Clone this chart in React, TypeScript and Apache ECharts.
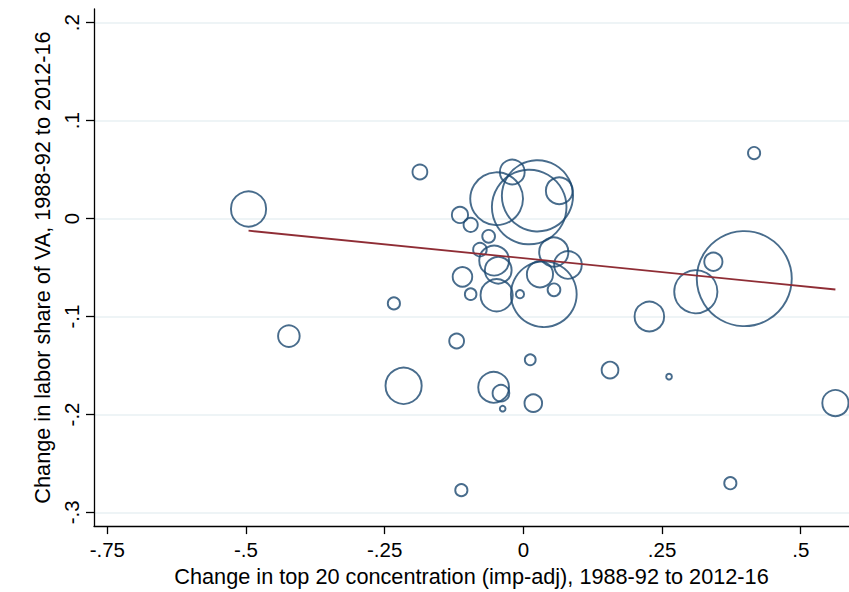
import React, { useEffect, useRef } from "react";
import * as echarts from "echarts";

// Change in top-20 concentration (imp-adj), 1988-92 to 2012-16
const xValues = [
  -0.4954, -0.2334, -0.4227, -0.2159, 0.3982, 0.3109, 0.3425, 0.2271, 0.1562, 0.2626,
  0.5625, 0.4159, -0.1118, 0.3731, -0.1203, 0.0124, -0.0536, -0.0404, -0.0373, 0.0179,
  -0.02, -0.0482, 0.0254, 0.0105, 0.0647, -0.1143, -0.095, -0.0626, -0.0783, -0.0527,
  -0.0453, -0.1098, -0.095, -0.0482, 0.0368, -0.0061, 0.0299, 0.0548, 0.0804, 0.0552,
  -0.1865,
];
// Change in labor share of VA, 1988-92 to 2012-16
const yValues = [
  0.0098, -0.0866, -0.12, -0.1708, -0.0613, -0.0747, -0.0441, -0.1, -0.1547, -0.1614,
  -0.1884, 0.0669, -0.2773, -0.2702, -0.125, -0.1442, -0.1723, -0.1783, -0.1941, -0.1885,
  0.0476, 0.0203, 0.0232, 0.0118, 0.0284, 0.0037, -0.0064, -0.0181, -0.0317, -0.0429,
  -0.0527, -0.0595, -0.0772, -0.0783, -0.0772, -0.0772, -0.0569, -0.0342, -0.0473, -0.0727,
  0.0476,
];
// Industry weights (marker area proportional)
const weights = [
  342, 49, 137, 361, 2343, 506, 100, 246, 86, 14,
  196, 49, 49, 49, 69, 40, 266, 86, 14, 94,
  177, 745, 1332, 1459, 204, 81, 64, 53, 59, 250,
  204, 114, 45, 289, 1142, 25, 196, 240, 216, 53,
  69,
];
// Fitted values (linear fit)
const fitX = [-0.4954, 0.5625];
const fitY = [-0.0124, -0.0724];

const xTicks = [-0.75, -0.5, -0.25, 0, 0.25, 0.5];
const xTickLabels = ["-.75", "-.5", "-.25", "0", ".25", ".5"];
const yTicks = [-0.3, -0.2, -0.1, 0, 0.1, 0.2];
const yTickLabels = ["-.3", "-.2", "-.1", "0", ".1", ".2"];

const xTitle = "Change in top 20 concentration (imp-adj), 1988-92 to 2012-16";
const yTitle = "Change in labor share of VA, 1988-92 to 2012-16";

const FONT = "'Liberation Sans', Arial, sans-serif";

function fmt(ticks: number[], labels: string[]) {
  return (v: number) => {
    const i = ticks.findIndex((t) => Math.abs(t - v) < 1e-9);
    return i >= 0 ? labels[i] : "";
  };
}

export default function App() {
  const ref = useRef<HTMLDivElement>(null);
  useEffect(() => {
    document.body.style.margin = "0";
    const chart = echarts.init(ref.current!, null, { renderer: "svg" });
    const scatterData = xValues.map((x, i) => [x, yValues[i], weights[i]]);
    const fitData = fitX.map((x, i) => [x, fitY[i]]);
    const axisLineStyle = { color: "#000", width: 1.3 };
    chart.setOption({
      animation: false,
      backgroundColor: "#ffffff",
      grid: { left: 94, right: 0, top: 9, bottom: 61 },
      xAxis: {
        type: "value",
        min: -0.774,
        max: 0.587,
        axisLine: { show: true, onZero: false, lineStyle: axisLineStyle },
        axisTick: { show: true, length: 8, customValues: xTicks, lineStyle: axisLineStyle },
        axisLabel: {
          customValues: xTicks,
          formatter: fmt(xTicks, xTickLabels),
          fontSize: 20.5,
          color: "#000",
          fontFamily: FONT,
          margin: 13,
        },
        splitLine: { show: false },
        name: xTitle,
        nameLocation: "middle",
        nameGap: 37,
        nameTextStyle: { fontSize: 21.7, color: "#000", fontFamily: FONT },
      },
      yAxis: {
        type: "value",
        min: -0.314,
        max: 0.214,
        axisLine: { show: true, onZero: false, lineStyle: axisLineStyle },
        axisTick: { show: true, length: 8, customValues: yTicks, lineStyle: axisLineStyle },
        axisLabel: {
          customValues: yTicks,
          formatter: fmt(yTicks, yTickLabels),
          rotate: 90,
          fontSize: 20.5,
          color: "#000",
          fontFamily: FONT,
          margin: 12,
        },
        splitLine: { show: true, lineStyle: { color: "#e9f0f3", width: 1.5 } },
        name: yTitle,
        nameLocation: "middle",
        nameGap: 40,
        nameRotate: 90,
        nameTextStyle: { fontSize: 21.7, color: "#000", fontFamily: FONT },
      },
      series: [
        {
          type: "scatter",
          data: scatterData,
          symbol: "circle",
          symbolSize: (v: number[]) => Math.max(2, 2 * Math.sqrt(v[2]) - 1.8),
          itemStyle: { color: "rgba(0,0,0,0)", borderColor: "#1a476f", borderWidth: 1.9 },
          emphasis: { disabled: true },
          silent: true,
        },
        {
          type: "line",
          data: fitData,
          symbol: "none",
          lineStyle: { color: "#8f2d35", width: 1.8 },
          silent: true,
        },
      ],
    });
    return () => chart.dispose();
  }, []);
  return (
    <div
      ref={ref}
      style={{ position: "absolute", left: 0, top: 0, width: 849, height: 592 }}
    />
  );
}
